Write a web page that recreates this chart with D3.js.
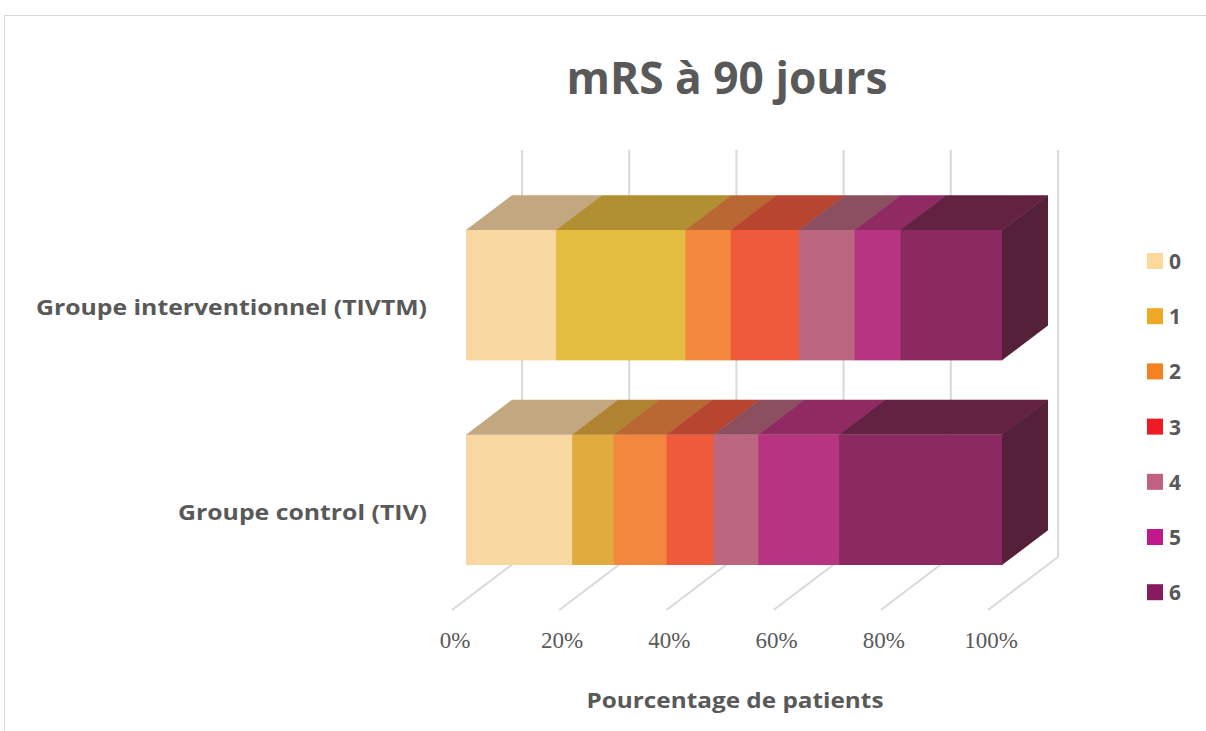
<!DOCTYPE html>
<html>
<head>
<meta charset="utf-8">
<script src="https://cdn.jsdelivr.net/npm/d3@7"></script>
<style>
	body { margin: 0; background: #fff; }
	svg { display: block; font-family: "Open Sans", Lato, sans-serif; }
</style>
</head>
<body>
<svg id="chart" width="1206" height="731"></svg>
<script>
// data (percent of patients per mRS score)
var groups = ['Groupe interventionnel (TIVTM)', 'Groupe control (TIV)'];
var scores = ['0', '1', '2', '3', '4', '5', '6'];
var valuesInterv = [16.8, 24.1, 8.5, 12.7, 10.4, 8.5, 19.0];
var valuesControl = [19.8, 7.7, 9.9, 8.8, 8.3, 15.1, 30.4];
var ticks = [0, 20, 40, 60, 80, 100];

// colours
var legendColors = ['#FDD99B', '#EDA923', '#F58220', '#ED1C24', '#C1607F', '#C0198B', '#871A5E'];
var frontColors = ['#F8D8A0', '#E2AB3E', '#F2873D', '#EF5A3A', '#BC667F', '#B73580', '#8B2960'];
var topColors = ['#C2A780', '#B08333', '#BA6833', '#B84530', '#8B4F60', '#902A63', '#632242'];
var frontColorsInterv = { 1: '#E3BD40' };
var topColorsInterv = { 1: '#B19033' };
var sideColor = '#55213A';
var textColor = '#595959';
var gridColor = '#D9D9D9';

// label widths as drawn in the original (font there is narrower/wider than Open Sans)
var labelWidths = [391, 249];

var svg = d3.select('#chart');

// frame
svg.append('rect')
	.attr('x', 4.5).attr('y', 15.5)
	.attr('width', 1220).attr('height', 740)
	.attr('fill', 'none')
	.attr('stroke', gridColor)
	.attr('stroke-width', 1);

// title
svg.append('text')
	.attr('x', 727).attr('y', 94)
	.attr('text-anchor', 'middle')
	.attr('font-size', 44)
	.attr('font-weight', 'bold')
	.attr('fill', textColor)
	.attr('textLength', 321)
	.attr('lengthAdjust', 'spacingAndGlyphs')
	.text('mRS à 90 jours');

// 3d layout: x on the front floor edge, depth vector to back wall
var x = d3.scaleLinear().domain([0, 100]).range([452, 988]);
var floorY = 610;
var wallTop = 150;
var depthDx = 70, depthDy = -53;
var barFront = 0.2, barBack = 0.857;

// y band = front face of each bar
var y = d3.scaleBand()
	.domain(groups)
	.range([230, 565])
	.paddingInner(0.363)
	.paddingOuter(0);

// back wall gridlines + floor lines
var grid = svg.append('g').attr('stroke', gridColor).attr('stroke-width', 2).attr('fill', 'none');
ticks.forEach(function(t){
	var bx = x(t) + depthDx;
	var by = floorY + depthDy;
	grid.append('line')
		.attr('x1', bx).attr('y1', wallTop)
		.attr('x2', bx).attr('y2', by);
	grid.append('line')
		.attr('x1', bx).attr('y1', by)
		.attr('x2', x(t)).attr('y2', floorY);
});

// bars
var fdx = depthDx * barFront;
var ddx = depthDx * (barBack - barFront), ddy = depthDy * (barBack - barFront);

function poly(pts){
	return 'M' + pts.map(function(p){ return p[0] + ',' + p[1]; }).join('L') + 'Z';
}

var bars = svg.append('g');
groups.forEach(function(g, gi){
	var vals = gi == 0 ? valuesInterv : valuesControl;
	var y0 = y(g);
	var y1 = y0 + y.bandwidth();
	var acc = 0;
	vals.forEach(function(v, i){
		var xa = x(acc) + fdx;
		var xb = x(acc + v) + fdx;
		acc += v;
		var fc = frontColors[i], tc = topColors[i];
		if (gi == 0 && frontColorsInterv[i]) fc = frontColorsInterv[i];
		if (gi == 0 && topColorsInterv[i]) tc = topColorsInterv[i];
		// front face
		bars.append('rect')
			.attr('x', xa).attr('y', y0)
			.attr('width', xb - xa + 0.5).attr('height', y1 - y0)
			.attr('fill', fc);
		// top face
		bars.append('path')
			.attr('d', poly([[xa, y0], [xa + ddx, y0 + ddy], [xb + ddx + 0.5, y0 + ddy], [xb + 0.5, y0]]))
			.attr('fill', tc);
		// side face at the end of the stack
		if (i == vals.length - 1){
			bars.append('path')
				.attr('d', poly([[xb, y0], [xb + ddx, y0 + ddy], [xb + ddx, y1 + ddy], [xb, y1]]))
				.attr('fill', sideColor);
		}
	});

	// category label
	svg.append('text')
		.attr('x', 427)
		.attr('y', y(g) + y.bandwidth() / 2 + 20)
		.attr('text-anchor', 'end')
		.attr('font-size', 22)
		.attr('font-weight', 'bold')
		.attr('fill', textColor)
		.attr('textLength', labelWidths[gi])
		.attr('lengthAdjust', 'spacingAndGlyphs')
		.text(g);
});

// x axis labels
svg.append('g')
	.selectAll('text')
	.data(ticks)
	.enter().append('text')
	.attr('x', function(d){ return x(d) + 3; })
	.attr('y', 648)
	.attr('text-anchor', 'middle')
	.attr('font-family', '"Liberation Serif", "DejaVu Serif", serif')
	.attr('font-size', 23)
	.attr('fill', textColor)
	.text(function(d){ return d + '%'; });

// axis title
svg.append('text')
	.attr('x', 735).attr('y', 708)
	.attr('text-anchor', 'middle')
	.attr('font-size', 22)
	.attr('font-weight', 'bold')
	.attr('fill', textColor)
	.attr('textLength', 297)
	.attr('lengthAdjust', 'spacingAndGlyphs')
	.text('Pourcentage de patients');

// legend
var legend = svg.append('g');
scores.forEach(function(s, i){
	var ly = 261 + i * 55.2;
	legend.append('rect')
		.attr('x', 1147).attr('y', ly - 8)
		.attr('width', 16).attr('height', 16)
		.attr('fill', legendColors[i]);
	legend.append('text')
		.attr('x', 1169).attr('y', ly + 8)
		.attr('font-size', 21)
		.attr('font-weight', 'bold')
		.attr('fill', textColor)
		.text(s);
});
</script>
</body>
</html>
